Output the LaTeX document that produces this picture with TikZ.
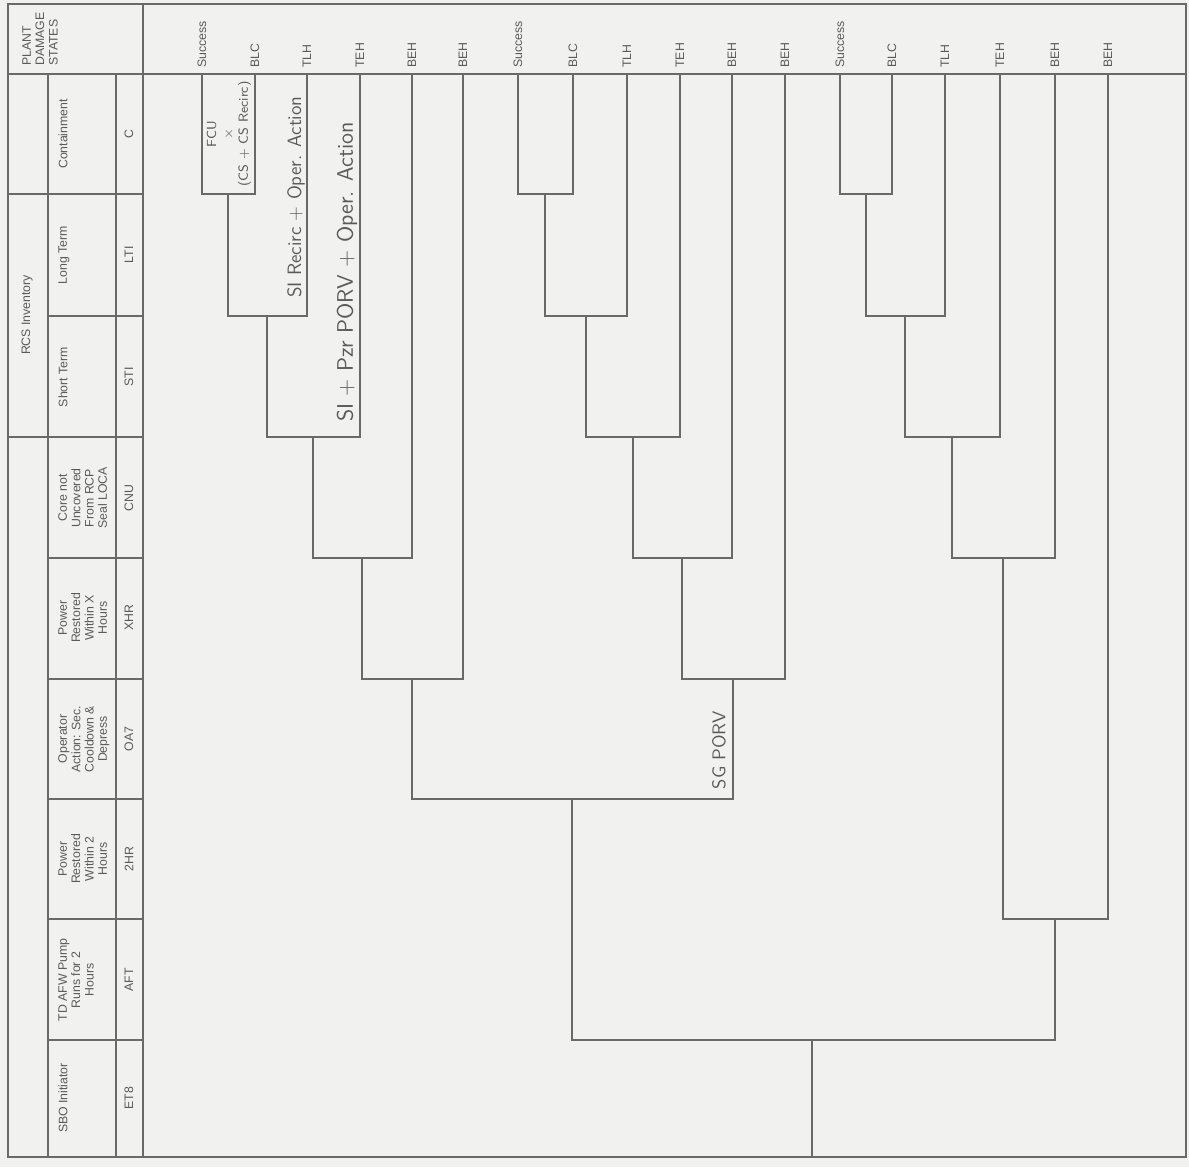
\documentclass[tikz,border=0pt]{standalone}
\usepackage{fontspec}
\setmainfont{Liberation Sans}
\definecolor{paper}{RGB}{241,241,239}
\definecolor{linegray}{RGB}{105,105,105}
\definecolor{inkgray}{RGB}{90,90,90}

\begin{document}
\begin{tikzpicture}[x=0.02cm,y=-0.02cm,
  rule/.style={draw=linegray,line width=0.9pt},
  tree/.style={draw=linegray,line width=1pt},
  state/.style={rotate=90,anchor=west,inner sep=0pt,text=inkgray,
    font=\fontsize{7}{7}\selectfont},
  event/.style={rotate=90,anchor=north,inner sep=0pt,align=center,text=inkgray,
    font=\fontsize{7}{7.6}\selectfont},
  code/.style={rotate=90,inner sep=0pt,text=inkgray,font=\fontsize{7}{7}\selectfont},
  pen/.style={rotate=90,inner sep=0pt,align=center,text=inkgray,font=\sffamily}]
  \useasboundingbox (0,0) rectangle (1189,1167);
  \fill[paper] (0,0) rectangle (1189,1167);

  % frame and heading table
  \draw[rule] (8,4) rectangle (1186,1157);
  \draw[rule] (8,74) -- (1186,74);
  \draw[rule] (143,4) -- (143,1157);
  \draw[rule] (48,74) -- (48,1157);
  \draw[rule] (116,74) -- (116,1157);
  \foreach \y in {194,316,437,558,679,799,919,1040}
    \draw[rule] (48,\y) -- (143,\y);
  \draw[rule] (8,194) -- (48,194);
  \draw[rule] (8,437) -- (48,437);

  \node[event,anchor=center,align=left] (pds) at (40,39) {PLANT\\DAMAGE\\STATES};
  \node[event,anchor=center] (rcs) at (27,315) {RCS Inventory};
  \foreach \y/\t/\c [count=\i] in {134/Containment/C, 255/Long Term/LTI,
      377/Short Term/STI, 498/{Core not\\Uncovered\\From RCP\\Seal LOCA}/CNU,
      618/{Power\\Restored\\Within X\\Hours}/XHR,
      739/{Operator\\Action: Sec.\\Cooldown \&\\Depress}/OA7,
      859/{Power\\Restored\\Within 2\\Hours}/2HR,
      980/{TD AFW Pump\\Runs for 2\\Hours}/AFT, 1098/SBO Initiator/ET8}
    {\node[event] (ev\i) at (58,\y) {\t}; \node[code] (cd\i) at (129,\y) {\c};}

  % end states
  \foreach \x/\s [count=\i] in {202/Success, 255/BLC, 307/TLH, 360/TEH, 412/BEH,
      463/BEH, 518/Success, 573/BLC, 627/TLH, 680/TEH, 732/BEH, 785/BEH,
      840/Success, 892/BLC, 945/TLH, 1000/TEH, 1055/BEH, 1108/BEH}
    {\node[state] (e\i) at (\x,68) {\s}; \coordinate (t\i) at (\x,74);}

  % first group
  \coordinate (a1) at (228,194);
  \coordinate (a2) at (267,316);
  \coordinate (a3) at (313,437);
  \coordinate (a4) at (362,558);
  \coordinate (a5) at (412,679);
  \draw[tree] (t1) |- (a1) -| (t2);
  \draw[tree] (a1) |- (a2) -| (t3);
  \draw[tree] (a2) |- (a3) -| (t4);
  \draw[tree] (a3) |- (a4) -| (t5);
  \draw[tree] (a4) |- (a5) -| (t6);

  % second group
  \coordinate (b1) at (545,194);
  \coordinate (b2) at (586,316);
  \coordinate (b3) at (633,437);
  \coordinate (b4) at (682,558);
  \coordinate (b5) at (733,679);
  \draw[tree] (t7) |- (b1) -| (t8);
  \draw[tree] (b1) |- (b2) -| (t9);
  \draw[tree] (b2) |- (b3) -| (t10);
  \draw[tree] (b3) |- (b4) -| (t11);
  \draw[tree] (b4) |- (b5) -| (t12);
  \coordinate (m1) at (572,799);
  \draw[tree] (a5) |- (m1) -| (b5);

  % third group
  \coordinate (g1) at (866,194);
  \coordinate (g2) at (905,316);
  \coordinate (g3) at (952,437);
  \coordinate (g4) at (1003,558);
  \coordinate (g5) at (1055,919);
  \draw[tree] (t13) |- (g1) -| (t14);
  \draw[tree] (g1) |- (g2) -| (t15);
  \draw[tree] (g2) |- (g3) -| (t16);
  \draw[tree] (g3) |- (g4) -| (t17);
  \draw[tree] (g4) |- (g5) -| (t18);

  \coordinate (root) at (812,1040);
  \coordinate (init) at (812,1157);
  \draw[tree] (m1) |- (root) -| (g5);
  \draw[tree] (root) -- (init);

  % hand notes
  \node[pen,font=\sffamily\fontsize{7.5}{9}\selectfont] (n1) at (229,134)
    {FCU\\$\times$\\(CS + CS Recirc)};
  \node[pen,font=\sffamily\fontsize{11}{12}\selectfont] (n2) at (296,197)
    {SI Recirc + Oper. Action};
  \node[pen,font=\sffamily\fontsize{12.8}{14}\selectfont] (n3) at (347,272)
    {SI + Pzr PORV + Oper. Action};
  \node[pen,font=\sffamily\fontsize{10.5}{11}\selectfont] (n4) at (719,750)
    {SG PORV};
\end{tikzpicture}
\end{document}
